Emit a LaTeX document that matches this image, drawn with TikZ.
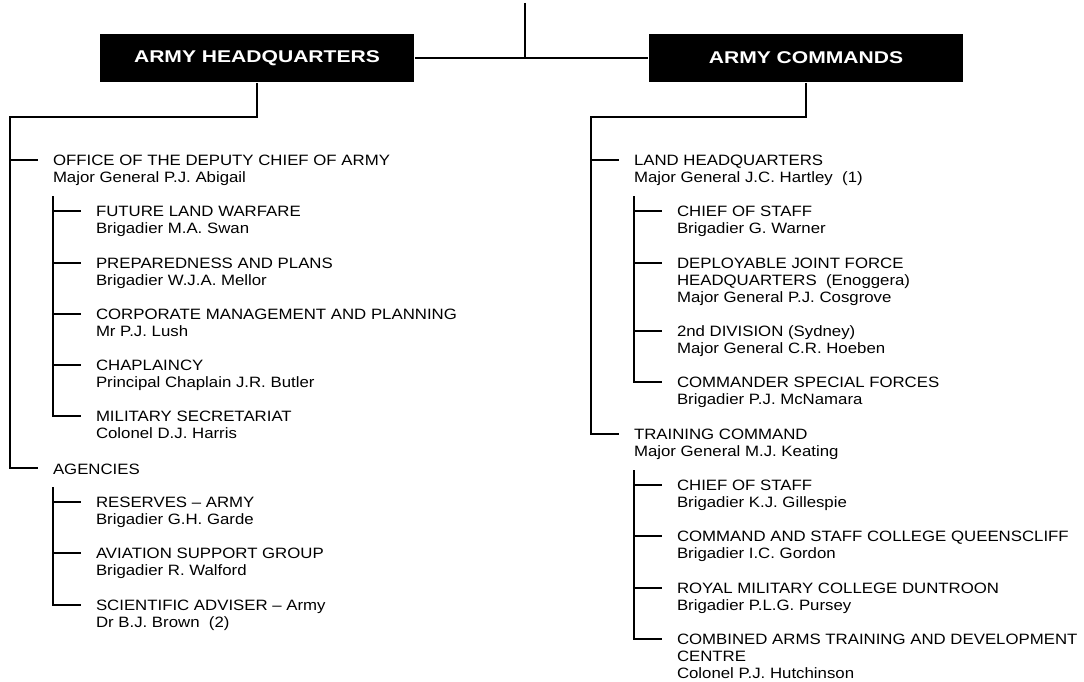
\documentclass[tikz,border=0pt]{standalone}
\usepackage{fontspec}
\newfontfamily\bodyfont[FakeStretch=1.12]{Liberation Sans}
\newfontfamily\headfont[FakeStretch=1.24]{Liberation Sans}
\begin{document}
\begin{tikzpicture}[x=1pt,y=-1pt,line width=2pt,
  item/.style={anchor=north west,inner sep=0pt,align=left,yshift=6pt,
    font=\bodyfont\fontsize{15}{17.1}\selectfont,execute at begin node=\strut},
  hbox/.style={fill=black,text=white,inner sep=0pt,minimum width=314pt,minimum height=48pt,
    font=\headfont\bfseries\fontsize{17}{20}\selectfont}]
\useasboundingbox (0,0) rectangle (1084,682);
% heads
\node[hbox] (ahq) at (257,58) {ARMY HEADQUARTERS};
\node[hbox,minimum width=314pt] (ac) at (806,58) {ARMY COMMANDS};
\coordinate (top) at (525,3);
\draw (ahq.east) -- (ac.west);
\draw (top) -- (top |- ahq.east);
% left column
\node[item] (o1) at (52,160) {OFFICE OF THE DEPUTY CHIEF OF ARMY\\Major General P.J. Abigail};
\node[item] (o2) at (95,211) {FUTURE LAND WARFARE\\Brigadier M.A. Swan};
\node[item] (o3) at (95,263) {PREPAREDNESS AND PLANS\\Brigadier W.J.A. Mellor};
\node[item] (o4) at (95,314) {CORPORATE MANAGEMENT AND PLANNING\\Mr P.J. Lush};
\node[item] (o5) at (95,365) {CHAPLAINCY\\Principal Chaplain J.R. Butler};
\node[item] (o6) at (95,416) {MILITARY SECRETARIAT\\Colonel D.J. Harris};
\node[item] (ag) at (52,468) {AGENCIES};
\node[item] (a1) at (95,502) {RESERVES – ARMY\\Brigadier G.H. Garde};
\node[item] (a2) at (95,553) {AVIATION SUPPORT GROUP\\Brigadier R. Walford};
\node[item] (a3) at (95,605) {SCIENTIFIC ADVISER – Army\\Dr B.J. Brown\ \ (2)};
% right column
\node[item] (l1) at (633,160) {LAND HEADQUARTERS\\Major General J.C. Hartley\ \ (1)};
\node[item] (l2) at (676,211) {CHIEF OF STAFF\\Brigadier G. Warner};
\node[item] (l3) at (676,263) {DEPLOYABLE JOINT FORCE\\HEADQUARTERS\ \ (Enoggera)\\Major General P.J. Cosgrove};
\node[item] (l4) at (676,331) {2nd DIVISION (Sydney)\\Major General C.R. Hoeben};
\node[item] (l5) at (676,382) {COMMANDER SPECIAL FORCES\\Brigadier P.J. McNamara};
\node[item] (tc) at (633,434) {TRAINING COMMAND\\Major General M.J. Keating};
\node[item] (t1) at (676,485) {CHIEF OF STAFF\\Brigadier K.J. Gillespie};
\node[item] (t2) at (676,536) {COMMAND AND STAFF COLLEGE QUEENSCLIFF\\Brigadier I.C. Gordon};
\node[item] (t3) at (676,588) {ROYAL MILITARY COLLEGE DUNTROON\\Brigadier P.L.G. Pursey};
\node[item] (t4) at (676,639) {COMBINED ARMS TRAINING AND DEVELOPMENT\\CENTRE\\Colonel P.J. Hutchinson};
% ticks
\foreach \n in {o1,o2,o3,o4,o5,a1,a2,l1,l2,l3,l4,t1,t2,t3}
  \draw ([shift={(-42pt,-6pt)}]\n.north west) -- ++(28,0);
% spines with end corners
\draw (ahq.south) |- (10,117) -- ([shift={(-42pt,-6pt)}]ag.north west) -- ++(28,0);
\draw (ac.south) |- (591,117) -- ([shift={(-42pt,-6pt)}]tc.north west) -- ++(28,0);
\draw ([shift={(-42pt,9pt)}]o2.north west) -- ([shift={(-42pt,-6pt)}]o6.north west) -- ++(28,0);
\draw ([shift={(-42pt,9pt)}]a1.north west) -- ([shift={(-42pt,-6pt)}]a3.north west) -- ++(28,0);
\draw ([shift={(-42pt,9pt)}]l2.north west) -- ([shift={(-42pt,-6pt)}]l5.north west) -- ++(28,0);
\draw ([shift={(-42pt,9pt)}]t1.north west) -- ([shift={(-42pt,-6pt)}]t4.north west) -- ++(28,0);
\end{tikzpicture}
\end{document}
